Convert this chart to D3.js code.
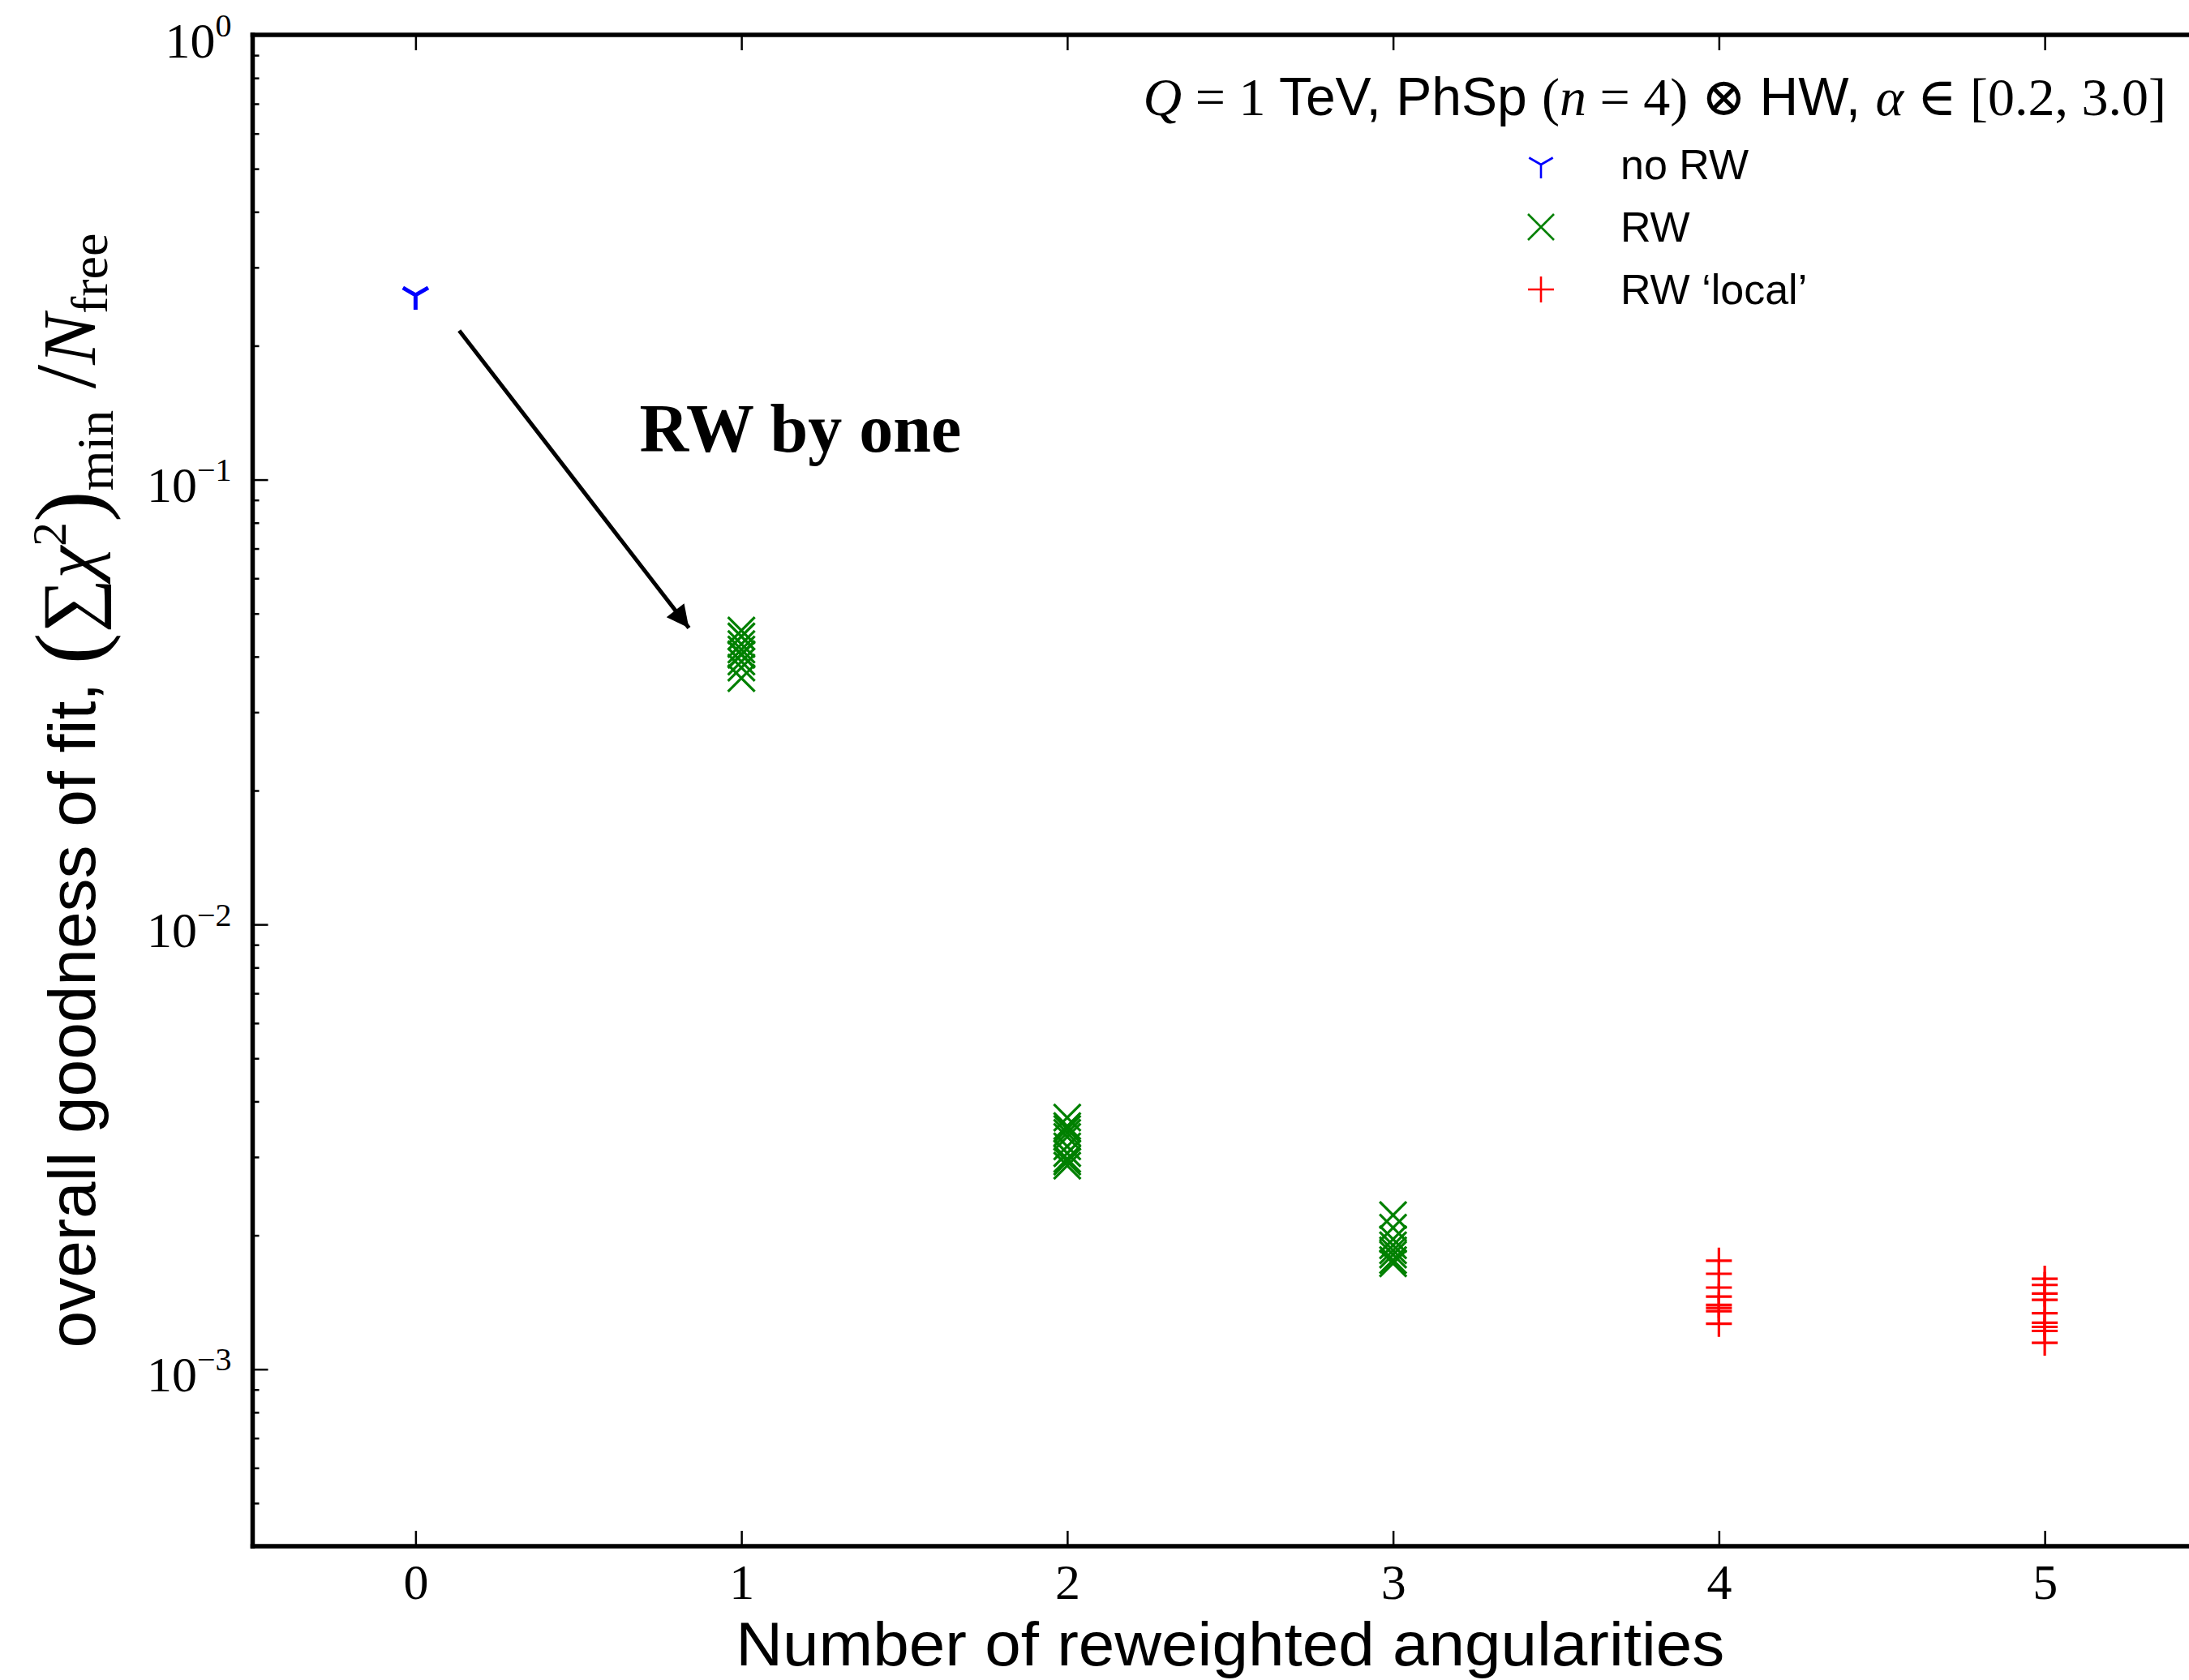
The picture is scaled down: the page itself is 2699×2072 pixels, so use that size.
<!DOCTYPE html>
<html>
<head>
<meta charset="utf-8">
<script src="https://cdn.jsdelivr.net/npm/d3@7"></script>
<style>
  body { margin: 0; background: #fff; }
  svg { display: block; }
  .serif { font-family: "Liberation Serif", "DejaVu Serif", serif; }
  .sans { font-family: "Liberation Sans", Arial, sans-serif; }
</style>
</head>
<body>
<script>
var width = 2699;
var height = 2072;

// x positions (number of reweighted angularities)
var xTicks = [0, 1, 2, 3, 4, 5];
var yMajor = [1e-3, 1e-2, 1e-1, 1];
var yExp = ["\u22123", "\u22122", "\u22121", "0"];

// values
var noRW_x = [0];
var noRW_y = [0.26];

var rw_x = [1, 1, 1, 1, 1, 1, 1, 1, 1,
            2, 2, 2, 2, 2, 2, 2, 2, 2, 2,
            3, 3, 3, 3, 3, 3, 3, 3];
var rw_y = [0.0458, 0.0444, 0.0427, 0.0415, 0.0404, 0.0390, 0.0378, 0.0405, 0.0358,
            0.00368, 0.00352, 0.00347, 0.00340, 0.00333, 0.00317, 0.00306, 0.00297, 0.00293, 0.00287,
            0.00222, 0.00208, 0.00196, 0.00190, 0.00185, 0.00181, 0.00176, 0.00173];

var local_x = [4, 4, 4, 4, 4, 4, 4, 4,
               5, 5, 5, 5, 5, 5, 5, 5, 5];
var local_y = [0.001754, 0.001639, 0.001526, 0.001457, 0.001395, 0.001373, 0.001351, 0.001265,
               0.001598, 0.001547, 0.001479, 0.001432, 0.001336, 0.001272, 0.001245, 0.001219, 0.001147];

var legendLabels = ["no RW", "RW", "RW \u2018local\u2019"];
var legendColours = ["#0000ff", "#008000", "#ff0000"];

var svg = d3.select("body").append("svg")
    .attr("width", width)
    .attr("height", height);

var x = d3.scaleLinear().domain([-0.5, 5.5]).range([311.5, 2722]);
var y = d3.scaleLog().domain([4e-4, 1]).range([1907, 43]);

var minor = [];
for (var e = -4; e < 0; e++) {
    for (var m = 2; m < 10; m++) {
        var v = m * Math.pow(10, e);
        if (v >= 4e-4 && v < 1) minor.push(v);
    }
}

// axes, ticks pointing inwards
var bottom = svg.append("g")
    .attr("transform", "translate(0," + y.range()[0] + ")")
    .call(d3.axisBottom(x).tickValues(xTicks).tickSize(-19).tickSizeOuter(0).tickPadding(21)
        .tickFormat(d3.format("d")));

var top = svg.append("g")
    .attr("transform", "translate(0," + y.range()[1] + ")")
    .call(d3.axisTop(x).tickValues(xTicks).tickSize(-19).tickSizeOuter(0).tickFormat(""));

var left = svg.append("g")
    .attr("transform", "translate(" + x.range()[0] + ",0)")
    .call(d3.axisLeft(y).tickValues(yMajor).tickSize(-19).tickSizeOuter(0).tickPadding(26)
        .tickFormat(""));

var leftMinor = svg.append("g")
    .attr("transform", "translate(" + x.range()[0] + ",0)")
    .call(d3.axisLeft(y).tickValues(minor).tickSize(-8).tickSizeOuter(0).tickFormat(""));

svg.selectAll(".domain").remove();
svg.selectAll(".tick line").attr("stroke", "#000").attr("stroke-width", 2.5);

bottom.selectAll(".tick text")
    .attr("class", "serif")
    .attr("font-size", 62)
    .attr("fill", "#000");

// y tick labels 10^k
left.selectAll(".tick text").remove();
left.selectAll(".tick").append("text")
    .attr("class", "serif")
    .attr("fill", "#000")
    .attr("text-anchor", "end")
    .attr("x", -26)
    .attr("y", 27)
    .each(function (d, i) {
        var t = d3.select(this);
        t.append("tspan").attr("font-size", 62).text("10");
        t.append("tspan").attr("font-size", 40).attr("dy", -26).text(yExp[yMajor.indexOf(d)]);
    });

// spines
var spines = svg.append("g").attr("stroke", "#000").attr("stroke-width", 5.5).attr("stroke-linecap", "square");
spines.append("line").attr("x1", x.range()[0]).attr("x2", x.range()[0]).attr("y1", y.range()[1]).attr("y2", y.range()[0]);
spines.append("line").attr("x1", x.range()[0]).attr("x2", x.range()[1]).attr("y1", y.range()[0]).attr("y2", y.range()[0]);
spines.append("line").attr("x1", x.range()[0]).attr("x2", x.range()[1]).attr("y1", y.range()[1]).attr("y2", y.range()[1]);
spines.append("line").attr("x1", x.range()[1]).attr("x2", x.range()[1]).attr("y1", y.range()[1]).attr("y2", y.range()[0]);

// marker shapes
function triDown(r) {
    return "M0,0L0," + r + "M0,0L" + (-0.866 * r) + "," + (-0.5 * r) + "M0,0L" + (0.866 * r) + "," + (-0.5 * r);
}
function cross(h) {
    return "M" + -h + "," + -h + "L" + h + "," + h + "M" + -h + "," + h + "L" + h + "," + -h;
}
function plus(h) {
    return "M" + -h + ",0L" + h + ",0M0," + -h + "L0," + h;
}

var plot = svg.append("g").attr("fill", "none");

plot.selectAll(".norw").data(noRW_y).enter().append("path")
    .attr("d", triDown(18))
    .attr("transform", function (d, i) { return "translate(" + x(noRW_x[i]) + "," + y(d) + ")"; })
    .attr("stroke", legendColours[0])
    .attr("stroke-width", 5);

plot.selectAll(".rw").data(rw_y).enter().append("path")
    .attr("d", cross(16.5))
    .attr("transform", function (d, i) { return "translate(" + x(rw_x[i]) + "," + y(d) + ")"; })
    .attr("stroke", legendColours[1])
    .attr("stroke-width", 3.2);

plot.selectAll(".local").data(local_y).enter().append("path")
    .attr("d", plus(16))
    .attr("transform", function (d, i) { return "translate(" + x(local_x[i]) + "," + y(d) + ")"; })
    .attr("stroke", legendColours[2])
    .attr("stroke-width", 3.2);

// annotation arrow
var arrowFrom = [0.134, 0.2164];
var arrowTo = [0.839, 0.0464];
var defs = svg.append("defs");
defs.append("marker")
    .attr("id", "head")
    .attr("viewBox", "0 0 10 10")
    .attr("refX", 10).attr("refY", 5)
    .attr("markerWidth", 7).attr("markerHeight", 5.5)
    .attr("markerUnits", "strokeWidth")
    .attr("orient", "auto")
    .append("path").attr("d", "M0,0L10,5L0,10z").attr("fill", "#000");

svg.append("line")
    .attr("x1", x(arrowFrom[0])).attr("y1", y(arrowFrom[1]))
    .attr("x2", x(arrowTo[0])).attr("y2", y(arrowTo[1]))
    .attr("stroke", "#000").attr("stroke-width", 5)
    .attr("marker-end", "url(#head)");

svg.append("text")
    .attr("class", "serif")
    .attr("x", x(0.687)).attr("y", y(0.1158))
    .attr("font-size", 84).attr("font-weight", "bold")
    .text("RW by one");

// legend
var legend = svg.append("g");
var title = legend.append("text")
    .attr("x", 2671).attr("y", 142)
    .attr("text-anchor", "end")
    .attr("font-size", 66);
title.append("tspan").attr("class", "serif").attr("font-style", "italic").text("Q");
title.append("tspan").attr("class", "serif").text(" = 1 ");
title.append("tspan").attr("class", "sans").text("TeV, PhSp ");
title.append("tspan").attr("class", "serif").text("(");
title.append("tspan").attr("class", "serif").attr("font-style", "italic").text("n");
title.append("tspan").attr("class", "serif").text(" = 4) \u2297 ");
title.append("tspan").attr("class", "sans").text("HW, ");
title.append("tspan").attr("class", "serif").attr("font-style", "italic").text("\u03b1");
title.append("tspan").attr("class", "serif").text(" \u2208 [0.2, 3.0]");

var legendMarks = [triDown(17), cross(16), plus(16)];
var rows = legend.selectAll(".row").data(legendLabels).enter().append("g")
    .attr("transform", function (d, i) { return "translate(1900," + (203 + i * 77) + ")"; });
rows.append("path")
    .attr("d", function (d, i) { return legendMarks[i]; })
    .attr("fill", "none")
    .attr("stroke", function (d, i) { return legendColours[i]; })
    .attr("stroke-width", 2.6);
rows.append("text")
    .attr("class", "sans")
    .attr("x", 98).attr("y", 18)
    .attr("font-size", 52)
    .text(function (d) { return d; });

// axis labels
svg.append("text")
    .attr("class", "sans")
    .attr("x", (x.range()[0] + x.range()[1]) / 2)
    .attr("y", 2054)
    .attr("text-anchor", "middle")
    .attr("font-size", 76)
    .attr("textLength", 1219)
    .attr("lengthAdjust", "spacingAndGlyphs")
    .text("Number of reweighted angularities");

var ylab = svg.append("text")
    .attr("transform", "translate(117," + ((y.range()[0] + y.range()[1]) / 2) + ") rotate(-90)")
    .attr("text-anchor", "middle");
ylab.append("tspan").attr("class", "sans").attr("font-size", 82).text("overall goodness of fit, ");
ylab.append("tspan").attr("class", "serif").attr("font-size", 116).attr("dy", 7).text("(");
ylab.append("tspan").attr("class", "serif").attr("font-size", 94).attr("dy", -7).text("\u2211");
ylab.append("tspan").attr("class", "serif").attr("font-size", 90).attr("font-style", "italic").text("\u03c7");
ylab.append("tspan").attr("class", "serif").attr("font-size", 60).attr("dy", -36).text("2");
ylab.append("tspan").attr("class", "serif").attr("font-size", 116).attr("dy", 43).text(")");
ylab.append("tspan").attr("class", "serif").attr("font-size", 64).attr("dy", 15).text("min");
ylab.append("tspan").attr("class", "serif").attr("font-size", 106).attr("dy", -22).text(" /");
ylab.append("tspan").attr("class", "serif").attr("font-size", 94).attr("font-style", "italic").text("N");
ylab.append("tspan").attr("class", "serif").attr("font-size", 64).attr("dy", 15).text("free");
</script>
</body>
</html>
